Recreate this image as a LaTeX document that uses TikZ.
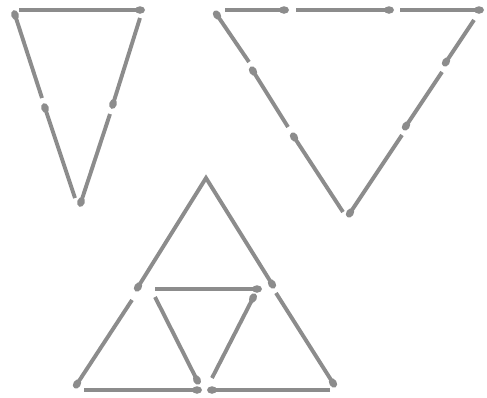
\documentclass[tikz,border=0pt]{standalone}
\usetikzlibrary{calc,shapes.geometric}
\definecolor{stick}{HTML}{8C8C8C}
\tikzset{
  stickline/.style={draw=stick,line width=3.9pt},
  headdot/.style={ellipse,fill=stick,inner sep=0pt,minimum width=10pt,minimum height=7.5pt}
}
\newcommand{\matchstick}[2]{%
  \draw[stickline] (#1) -- (#2);
  \path let \p1=($(#2)-(#1)$), \n1={atan2(\y1,\x1)} in node[headdot,rotate=\n1] at (#2) {};
}
\begin{document}
\begin{tikzpicture}[x=1pt,y=-1pt]
\useasboundingbox (0,0) rectangle (487,397);
% triangle 1
\matchstick{19,10}{140,10}
\matchstick{42,98}{15,15}
\matchstick{75,198}{45,108}
\matchstick{140,18}{113,104}
\matchstick{110,114}{81,202}
% triangle 2
\matchstick{225,10}{284,10}
\matchstick{296,10}{389,10}
\matchstick{400,10}{479,10}
\matchstick{249,62}{217,15}
\matchstick{288,127}{253,71}
\matchstick{343,212}{294,137}
\matchstick{474,20}{446,62}
\matchstick{442,72}{406,126}
\matchstick{402,135}{350,213}
% triangle 3
\draw[stickline,line join=miter] (138,287) -- (206,178) -- (272,284);
\path let \p1=($(138,287)-(206,178)$), \n1={atan2(\y1,\x1)} in node[headdot,rotate=\n1] at (138,287) {};
\path let \p1=($(272,284)-(206,178)$), \n1={atan2(\y1,\x1)} in node[headdot,rotate=\n1] at (272,284) {};
\matchstick{155,289}{257,289}
\matchstick{132,300}{77,384}
\matchstick{155,297}{197,380}
\matchstick{212,378}{253,298}
\matchstick{276,293}{333,383}
\matchstick{84,390}{197,390}
\matchstick{330,390}{212,390}
\end{tikzpicture}
\end{document}
